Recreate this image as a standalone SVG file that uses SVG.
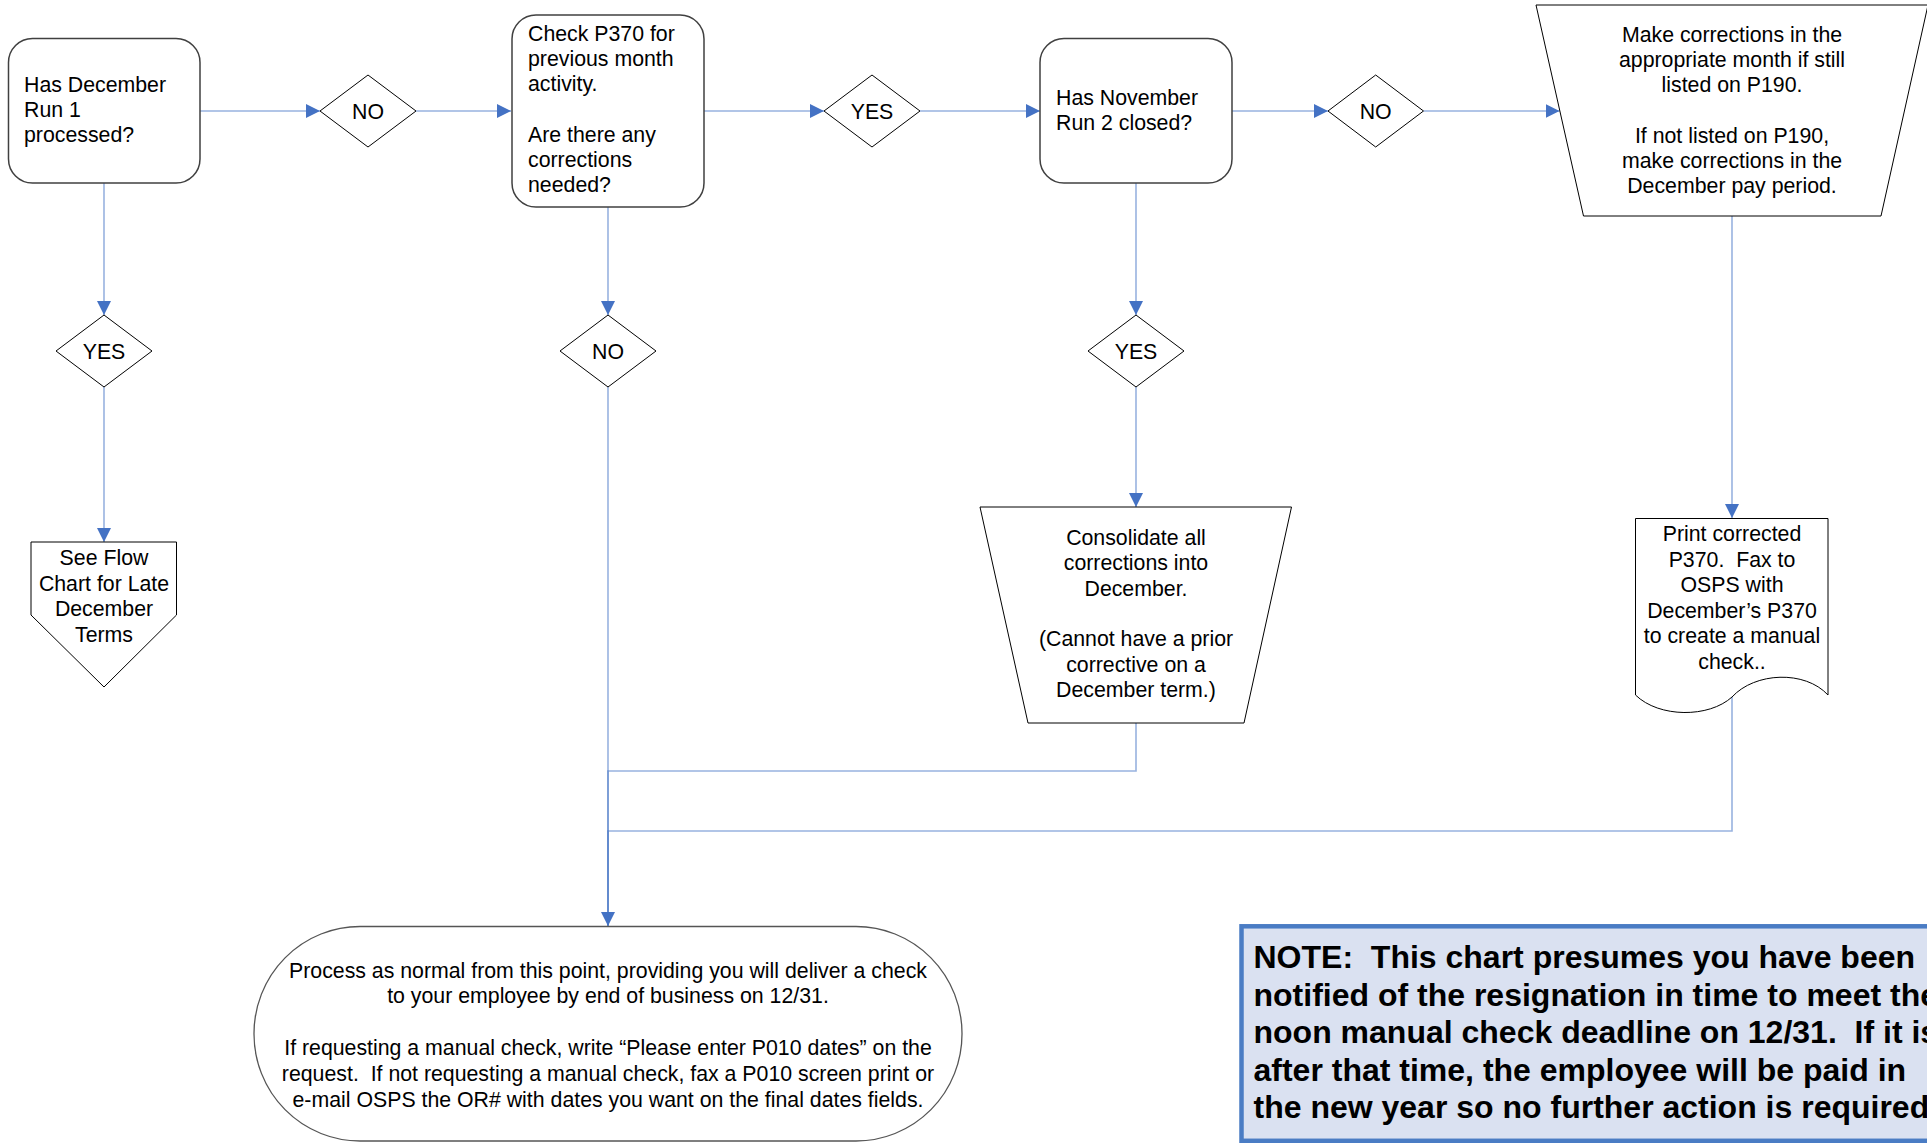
<svg xmlns="http://www.w3.org/2000/svg" width="1927" height="1143" viewBox="0 0 1927 1143">
<style>
.t{font-family:"Liberation Sans",Arial,sans-serif;font-size:21.3px;fill:#000;white-space:pre}
.c{text-anchor:middle}
.box{fill:#fff;stroke:#404040;stroke-width:1.5}
.sh{fill:#fff;stroke:#000;stroke-width:1}
.ln{fill:none;stroke:#4472c4;stroke-opacity:0.55;stroke-width:1.6}
.note{font-family:"Liberation Sans",Arial,sans-serif;font-size:32px;font-weight:bold;fill:#000;white-space:pre}
</style>
<defs>
<marker id="ah" viewBox="0 0 14 14" refX="14" refY="7" markerWidth="14" markerHeight="14" markerUnits="userSpaceOnUse" orient="auto">
<path d="M0,0 L14,7 L0,14 Z" fill="#4472c4"/>
</marker>
</defs>
<rect width="1927" height="1143" fill="#fff"/>

<g id="connectors">
<path class="ln" d="M200,111 H320" marker-end="url(#ah)"/>
<path class="ln" d="M416,111 H511" marker-end="url(#ah)"/>
<path class="ln" d="M704,111 H824" marker-end="url(#ah)"/>
<path class="ln" d="M920,111 H1040" marker-end="url(#ah)"/>
<path class="ln" d="M1232,111 H1328" marker-end="url(#ah)"/>
<path class="ln" d="M1423.5,111 H1559.5" marker-end="url(#ah)"/>
<path class="ln" d="M104,183 V315" marker-end="url(#ah)"/>
<path class="ln" d="M104,387 V542" marker-end="url(#ah)"/>
<path class="ln" d="M608,207 V315" marker-end="url(#ah)"/>
<path class="ln" d="M608,387 V926" marker-end="url(#ah)"/>
<path class="ln" d="M1136,183 V315" marker-end="url(#ah)"/>
<path class="ln" d="M1136,387 V507" marker-end="url(#ah)"/>
<path class="ln" d="M1136,723 V771 H608 V926"/>
<path class="ln" d="M1732,216 V518" marker-end="url(#ah)"/>
<path class="ln" d="M1732,697 V831 H608 V926"/>
</g>

<g id="n1">
<rect class="box" x="8.5" y="38.5" width="191.5" height="144.5" rx="24" ry="24"/>
<text class="t" x="24" y="92">Has December</text>
<text class="t" x="24" y="117.2">Run 1</text>
<text class="t" x="24" y="142.4">processed?</text>
</g>

<g id="d1">
<polygon class="sh" points="320,111 368,75 416,111 368,147"/>
<text class="t c" x="368" y="118.5">NO</text>
</g>

<g id="n2">
<rect class="box" x="512" y="15" width="192" height="192" rx="24" ry="24"/>
<text class="t" x="528" y="41">Check P370 for</text>
<text class="t" x="528" y="66.2">previous month</text>
<text class="t" x="528" y="91.4">activity.</text>
<text class="t" x="528" y="142">Are there any</text>
<text class="t" x="528" y="167.2">corrections</text>
<text class="t" x="528" y="192.4">needed?</text>
</g>

<g id="d2">
<polygon class="sh" points="824,111 872,75 920,111 872,147"/>
<text class="t c" x="872" y="118.5">YES</text>
</g>

<g id="n3">
<rect class="box" x="1040" y="38.5" width="192" height="144.5" rx="24" ry="24"/>
<text class="t" x="1056" y="105">Has November</text>
<text class="t" x="1056" y="130.2">Run 2 closed?</text>
</g>

<g id="d3">
<polygon class="sh" points="1328,111 1375.7,75 1423.5,111 1375.7,147"/>
<text class="t c" x="1375.7" y="118.5">NO</text>
</g>

<g id="n4">
<polygon class="sh" points="1536,5 1928,5 1881,216 1583.5,216"/>
<text class="t c" x="1732" y="41.5">Make corrections in the</text>
<text class="t c" x="1732" y="66.8">appropriate month if still</text>
<text class="t c" x="1732" y="92.1">listed on P190.</text>
<text class="t c" x="1732" y="142.7">If not listed on P190,</text>
<text class="t c" x="1732" y="168">make corrections in the</text>
<text class="t c" x="1732" y="193.3">December pay period.</text>
</g>

<g id="d4">
<polygon class="sh" points="56,351 104,315 152,351 104,387"/>
<text class="t c" x="104" y="358.5">YES</text>
</g>

<g id="d5">
<polygon class="sh" points="560,351 608,315 656,351 608,387"/>
<text class="t c" x="608" y="358.5">NO</text>
</g>

<g id="d6">
<polygon class="sh" points="1088,351 1136,315 1184,351 1136,387"/>
<text class="t c" x="1136" y="358.5">YES</text>
</g>

<g id="n5">
<polygon class="sh" points="31,542 176.5,542 176.5,615 104,687 31,615"/>
<text class="t c" x="104" y="565">See Flow</text>
<text class="t c" x="104" y="590.5">Chart for Late</text>
<text class="t c" x="104" y="616">December</text>
<text class="t c" x="104" y="641.5">Terms</text>
</g>

<g id="n6">
<polygon class="sh" points="980,507 1291.5,507 1244,723 1028,723"/>
<text class="t c" x="1136" y="545">Consolidate all</text>
<text class="t c" x="1136" y="570.3">corrections into</text>
<text class="t c" x="1136" y="595.6">December.</text>
<text class="t c" x="1136" y="646.2">(Cannot have a prior</text>
<text class="t c" x="1136" y="671.5">corrective on a</text>
<text class="t c" x="1136" y="696.8">December term.)</text>
</g>

<g id="n7">
<path class="sh" d="M1635.5,518.5 H1828 V695 C1805,670 1755,672 1732,697 C1709,718 1659,718 1635.5,695 Z"/>
<text class="t c" x="1732" y="541">Print corrected</text>
<text class="t c" x="1732" y="566.5">P370.  Fax to</text>
<text class="t c" x="1732" y="592">OSPS with</text>
<text class="t c" x="1732" y="617.5">December’s P370</text>
<text class="t c" x="1732" y="643">to create a manual</text>
<text class="t c" x="1732" y="668.5">check..</text>
</g>

<g id="n8">
<rect x="254" y="926.5" width="708" height="214.5" rx="106" ry="107" fill="#fff" stroke="#555" stroke-width="1.3"/>
<text class="t c" x="608" y="977.5">Process as normal from this point, providing you will deliver a check</text>
<text class="t c" x="608" y="1003.3">to your employee by end of business on 12/31.</text>
<text class="t c" x="608" y="1055">If requesting a manual check, write “Please enter P010 dates” on the</text>
<text class="t c" x="608" y="1080.8">request.  If not requesting a manual check, fax a P010 screen print or</text>
<text class="t c" x="608" y="1106.6">e-mail OSPS the OR# with dates you want on the final dates fields.</text>
</g>

<g id="n9">
<rect x="1241.5" y="926.3" width="700" height="214.5" fill="#dae1f1" stroke="#4a7cc4" stroke-width="4.5"/>
<text class="note" x="1253.5" y="968">NOTE:  This chart presumes you have been</text>
<text class="note" x="1253.5" y="1005.5">notified of the resignation in time to meet the</text>
<text class="note" x="1253.5" y="1043">noon manual check deadline on 12/31.  If it is</text>
<text class="note" x="1253.5" y="1080.5">after that time, the employee will be paid in</text>
<text class="note" x="1253.5" y="1118">the new year so no further action is required.</text>
</g>
</svg>
